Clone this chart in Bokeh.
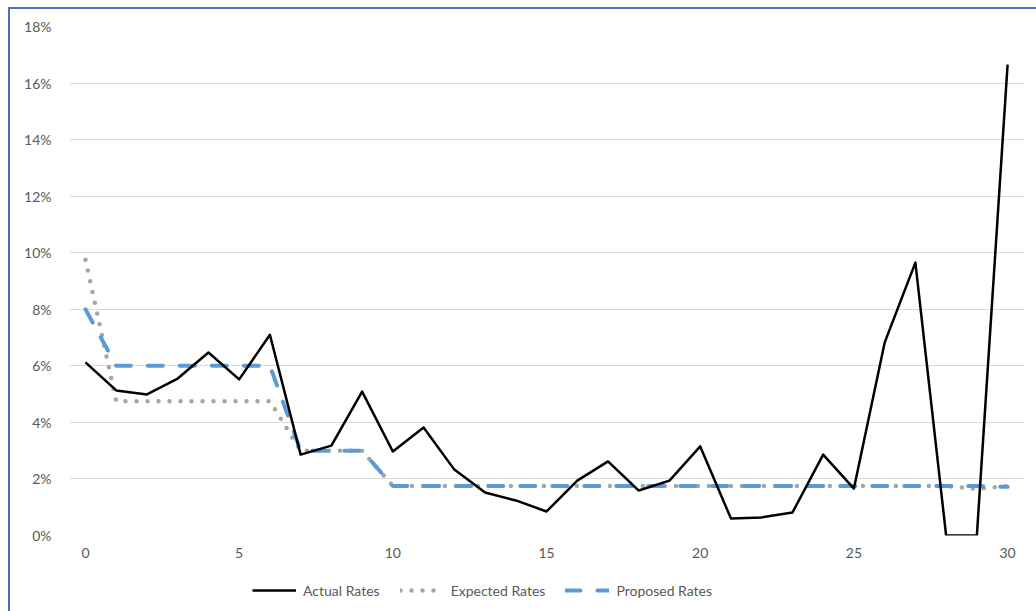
from bokeh.plotting import figure
from bokeh.layouts import column
from bokeh.models import Legend, LegendItem, NumeralTickFormatter, FixedTicker, Range1d
from bokeh.embed import file_html
from bokeh.resources import INLINE

x = list(range(31))
actual = [6.12, 5.13, 4.99, 5.55, 6.47, 5.52, 7.10, 2.86, 3.18, 5.09,
          2.97, 3.82, 2.33, 1.52, 1.24, 0.85, 1.94, 2.62, 1.59, 1.94,
          3.15, 0.60, 0.64, 0.81, 2.86, 1.66, 6.82, 9.65, 0.00, 0.00, 16.65]
expected = [9.75, 4.75, 4.75, 4.75, 4.75, 4.75, 4.75, 3.00, 3.00, 3.00,
            1.75, 1.75, 1.75, 1.75, 1.75, 1.75, 1.75, 1.75, 1.75, 1.75,
            1.75, 1.75, 1.75, 1.75, 1.75, 1.75, 1.75, 1.75, 1.75, 1.65, 1.75]
proposed = [8.00, 6.00, 6.00, 6.00, 6.00, 6.00, 6.00, 3.00, 3.00, 3.00,
            1.75, 1.75, 1.75, 1.75, 1.75, 1.75, 1.75, 1.75, 1.75, 1.75,
            1.75, 1.75, 1.75, 1.75, 1.75, 1.75, 1.75, 1.75, 1.75, 1.75, 1.72]
series_names = ["Actual Rates", "Expected Rates", "Proposed Rates"]
y_ticks = [0, 0.02, 0.04, 0.06, 0.08, 0.10, 0.12, 0.14, 0.16, 0.18]
x_ticks = [0, 5, 10, 15, 20, 25, 30]

act = [v / 100 for v in actual]
exp_ = [v / 100 for v in expected]
prop = [v / 100 for v in proposed]

FONT = "Lato"
TXT = "#595959"
STYLES = [dict(line_color="black", line_width=2.5, line_join="round"),
          dict(line_color="#a5a5a5", line_width=4.5, line_dash="0 11",
               line_cap="round", line_join="round"),
          dict(line_color="#5b9bd5", line_width=4, line_dash="15 17",
               line_cap="round", line_join="round")]

p = figure(width=1026, height=561, output_backend="svg", toolbar_location=None,
           x_range=Range1d(-0.52, 30.55), y_range=Range1d(0, 0.18),
           min_border_left=59, min_border_right=12, min_border_top=17,
           min_border_bottom=35)
p.outline_line_color = None
p.border_fill_color = "white"
p.xgrid.grid_line_color = None
p.ygrid.grid_line_color = "#d9d9d9"
p.ygrid.grid_line_width = 1

p.yaxis.ticker = FixedTicker(ticks=y_ticks)
p.yaxis.formatter = NumeralTickFormatter(format="0%")
p.xaxis.ticker = FixedTicker(ticks=x_ticks)
for ax in (p.xaxis, p.yaxis):
    ax.axis_line_color = None
    ax.major_tick_line_color = None
    ax.minor_tick_line_color = None
    ax.major_label_text_font = FONT
    ax.major_label_text_font_size = "14px"
    ax.major_label_text_color = TXT
p.yaxis.major_label_standoff = 12
p.xaxis.major_label_standoff = 6

p.line(x, exp_, **STYLES[1])
p.line(x, prop, **STYLES[2])
p.line(x, act, **STYLES[0])

# legend strip below the chart
p2 = figure(width=1026, height=41, output_backend="svg", toolbar_location=None,
            x_range=Range1d(0, 1), y_range=Range1d(0, 1),
            x_axis_location=None, y_axis_location=None,
            min_border_left=0, min_border_right=0, min_border_top=0,
            min_border_bottom=0)
p2.grid.visible = False
p2.outline_line_color = None
p2.border_fill_color = "white"
items = []
for name, st in zip(series_names, STYLES):
    r = p2.line([5, 6], [5, 6], **st)  # off-screen, legend glyph only
    items.append(LegendItem(label=name, renderers=[r]))
legend = Legend(items=items, orientation="horizontal", location=(183, 11),
                label_text_font=FONT, label_text_font_size="14px",
                label_text_color=TXT, glyph_width=44, label_standoff=7,
                spacing=20, border_line_color=None, background_fill_alpha=0,
                padding=4, margin=0)
p2.add_layout(legend, "center")

layout = column(p, p2, spacing=0)
layout.styles = {"margin-left": "8px", "margin-top": "7px",
                 "border-left": "2px solid #4472c4", "border-top": "2px solid #4472c4"}

open("out.html", "w").write(file_html(layout, INLINE))
